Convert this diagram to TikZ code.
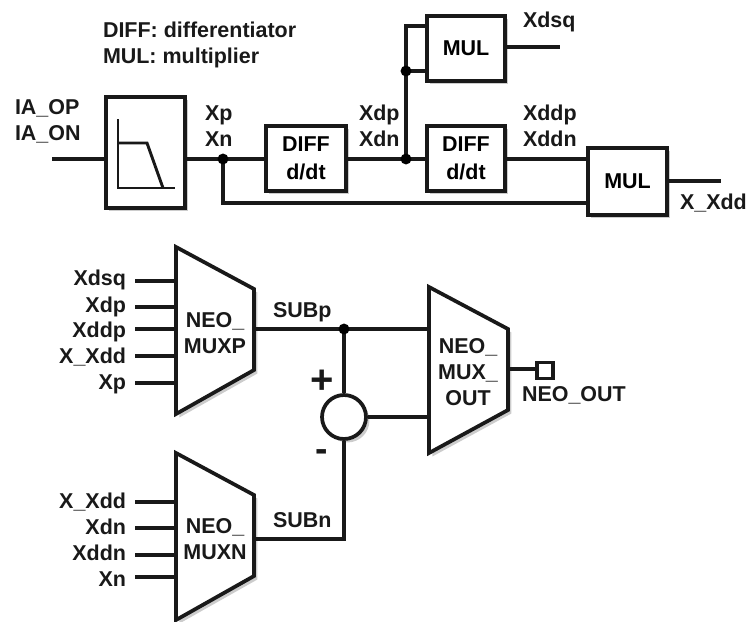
\documentclass[tikz,border=0pt]{standalone}
\usepackage{fontspec}
\setmainfont{Liberation Sans}
\usetikzlibrary{shadows,calc}
\def\pxu{0.75pt}
\tikzset{
  x=0.75pt,y=-0.75pt,
  softshadow/.style={drop shadow={shadow xshift=2.6pt,shadow yshift=-2.6pt,opacity=.4,fill=black!50}},
  wire/.style={line width=2.4pt,line cap=butt,black!90},
  outline/.style={draw=black!90,line width=2.8pt,fill=white,line join=miter,softshadow},
  blockbox/.style={outline,rectangle,inner sep=0pt,align=center,font=\txtfont},
  mux/.style={outline},
  lbl/.style={inner sep=0pt,outer sep=0pt,font=\txtfont,text=black!90},
  lble/.style={lbl,anchor=base east},
  lblw/.style={lbl,anchor=base west},
  muxlbl/.style={lbl,align=center,font=\muxfont},
  junction/.style={circle,fill=black,inner sep=0pt,minimum size=8.2pt},
  thincurve/.style={line width=2.2pt,black!90,line join=miter},
}
\newcommand\txtfont{\bfseries\fontsize{16.1}{21}\selectfont}
\newcommand\muxfont{\bfseries\fontsize{16.1}{19.4}\selectfont}
\begin{document}
\begin{tikzpicture}
\useasboundingbox (0,0) rectangle (748,621);
% free ends
\coordinate (inA) at (52,159);
\coordinate (outDsq) at (560,47);
\coordinate (outXdd) at (721,181);
\coordinate (jP) at (223,159);
\coordinate (jD) at (406,159);
\coordinate (jM) at (406,71);
\coordinate (upM) at (406,26);
\coordinate (jS) at (344,329);
\foreach \n/\y in {a/281,b/307,c/329,d/356,e/383}{\coordinate (pi\n) at (135,\y); \coordinate (pt\n) at (176,\y);}
\foreach \n/\y in {a/502,b/528,c/555,d/577}{\coordinate (ni\n) at (135,\y); \coordinate (nt\n) at (176,\y);}
\coordinate (muxPout) at (254,329);
\coordinate (muxNout) at (254,539);
\coordinate (turnN) at (344,539);
\coordinate (outIn1) at (429,329);
\coordinate (outIn2) at (429,417);
\coordinate (muxOout) at (508,369);
% shapes
\node[blockbox,minimum width=79*\pxu,minimum height=111*\pxu] (filt) at (145.5,152.5) {};
\node[blockbox,minimum width=80*\pxu,minimum height=65*\pxu] (diffA) at (306,158.5) {DIFF\\d/dt};
\node[blockbox,minimum width=78*\pxu,minimum height=65*\pxu] (diffB) at (466,158.5) {DIFF\\d/dt};
\node[blockbox,minimum width=78*\pxu,minimum height=65*\pxu] (mulA) at (466,48.5) {MUL};
\node[blockbox,minimum width=79*\pxu,minimum height=67*\pxu] (mulB) at (627.5,181.5) {MUL};
\draw[mux] (176,247) -- (254,289) -- (254,370) -- (176,414) -- cycle;
\draw[mux] (176,453) -- (254,495) -- (254,576) -- (176,620) -- cycle;
\draw[mux] (429,287) -- (508,329) -- (508,410) -- (429,453) -- cycle;
\node[outline,circle,inner sep=0pt,minimum size=44*\pxu] (sum) at (344,417) {};
\node[draw=black!90,line width=2.6pt,fill=white,rectangle,inner sep=0pt,minimum size=16*\pxu] (pad) at (545,370.5) {};
% filter curve
\draw[thincurve] (118,119) -- (118,188) -- (175,188);
\draw[thincurve] (118,143) -- (147,143) -- (163,188);
% connectors
\draw[wire] (inA) -- (filt.west |- inA);
\draw[wire] (filt.east |- inA) -- (diffA.west |- inA);
\draw[wire] (jP) |- (mulB.west |- 0,203);
\draw[wire] (diffA.east |- jD) -- (diffB.west |- jD);
\draw[wire] (jD) -- (upM) -- (mulA.west |- upM);
\draw[wire] (jM) -- (mulA.west |- jM);
\draw[wire] (mulA.east |- outDsq) -- (outDsq);
\draw[wire] (diffB.east |- jD) -- (mulB.west |- jD);
\draw[wire] (mulB.east |- outXdd) -- (outXdd);
\foreach \n in {a,b,c,d,e}{\draw[wire] (pi\n) -- (pt\n);}
\foreach \n in {a,b,c,d}{\draw[wire] (ni\n) -- (nt\n);}
\draw[wire] (muxPout) -- (outIn1);
\draw[wire] (jS) -- (sum.north);
\draw[wire] (sum.south) -- (turnN) -- (muxNout);
\draw[wire] (sum.east) -- (outIn2);
\draw[wire] (muxOout) -- (pad.west |- muxOout);
\node[junction] (dotP) at (jP) {};
\node[junction] (dotD) at (jD) {};
\node[junction] (dotM) at (jM) {};
\node[junction] (dotS) at (jS) {};
% labels
\node[lblw] (t1) at (103,37) {DIFF: differentiator};
\node[lblw] (t2) at (103,63) {MUL: multiplier};
\node[lblw] (t3) at (15,114) {IA\_OP};
\node[lblw] (t4) at (15,140) {IA\_ON};
\node[lblw] (t5) at (205,120) {Xp};
\node[lblw] (t6) at (205,146) {Xn};
\node[lblw] (t7) at (359,120) {Xdp};
\node[lblw] (t8) at (359,146) {Xdn};
\node[lblw] (t9) at (523,120) {Xddp};
\node[lblw] (t10) at (523,146) {Xddn};
\node[lblw] (t11) at (523,27) {Xdsq};
\node[lblw] (t12) at (680,209) {X\_Xdd};
\node[lble] (p1) at (126,285) {Xdsq};
\node[lble] (p2) at (126,312) {Xdp};
\node[lble] (p3) at (126,337) {Xddp};
\node[lble] (p4) at (126,363) {X\_Xdd};
\node[lble] (p5) at (126,389) {Xp};
\node[lble] (n1) at (126,508) {X\_Xdd};
\node[lble] (n2) at (126,534) {Xdn};
\node[lble] (n3) at (126,560) {Xddn};
\node[lble] (n4) at (126,586) {Xn};
\node[lblw] (s1) at (273,317) {SUBp};
\node[lblw] (s2) at (273,527) {SUBn};
\node[muxlbl] (mp) at (215,333) {NEO\_\\MUXP};
\node[muxlbl] (mn) at (215,539) {NEO\_\\MUXN};
\node[muxlbl] (mo) at (468,372) {NEO\_\\MUX\_\\OUT};
\node[lblw] (no) at (522,401) {NEO\_OUT};
\node[lbl,font=\bfseries\fontsize{30}{30}\selectfont] (plus) at (322,382) {+};
\node[lbl,font=\bfseries\fontsize{28}{28}\selectfont] (minus) at (322,456) {-};
\end{tikzpicture}
\end{document}
